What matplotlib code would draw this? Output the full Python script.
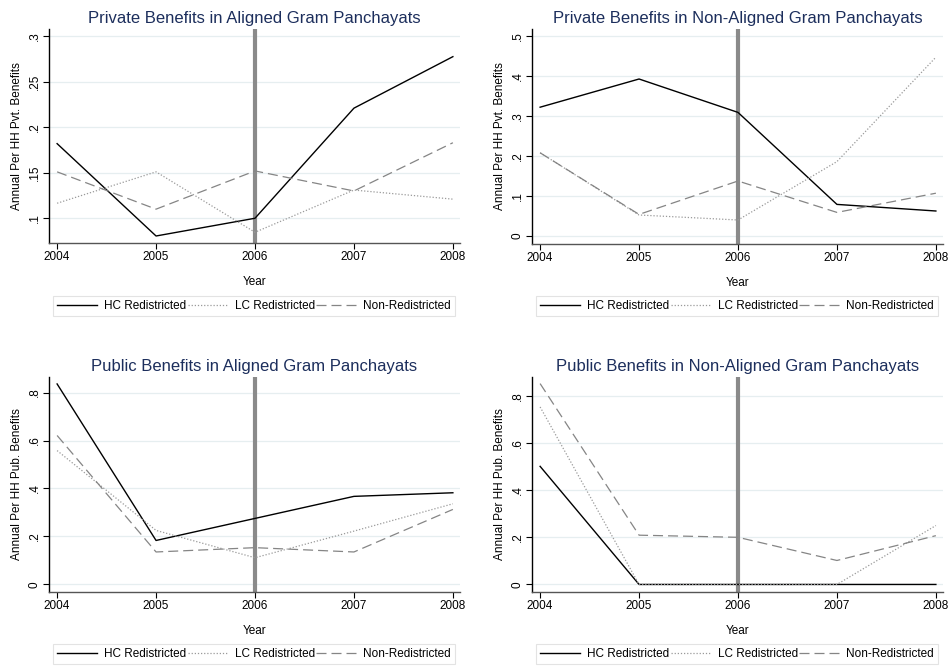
import matplotlib
matplotlib.use("Agg")
import matplotlib.pyplot as plt
from matplotlib.ticker import FuncFormatter

plt.rcParams['font.family'] = ['Liberation Sans', 'DejaVu Sans']

years = [2004, 2005, 2006, 2007, 2008]
series_names = ["HC Redistricted", "LC Redistricted", "Non-Redistricted"]

# Private benefits, aligned GPs
pvt_aligned_hc = [0.182, 0.0805, 0.100, 0.221, 0.2776]
pvt_aligned_lc = [0.1165, 0.151, 0.0846, 0.131, 0.121]
pvt_aligned_non = [0.151, 0.110, 0.152, 0.130, 0.183]

# Private benefits, non-aligned GPs
pvt_nonaligned_hc = [0.322, 0.3925, 0.309, 0.079, 0.0625]
pvt_nonaligned_lc = [0.208, 0.0525, 0.040, 0.186, 0.447]
pvt_nonaligned_non = [0.208, 0.054, 0.1375, 0.059, 0.107]

# Public benefits, aligned GPs
pub_aligned_hc = [0.836, 0.183, 0.275, 0.367, 0.382]
pub_aligned_lc = [0.558, 0.225, 0.111, 0.222, 0.336]
pub_aligned_non = [0.621, 0.135, 0.153, 0.135, 0.3125]

# Public benefits, non-aligned GPs
pub_nonaligned_hc = [0.501, 0.0, 0.0, 0.0, 0.0]
pub_nonaligned_lc = [0.753, 0.0, 0.0, 0.0, 0.250]
pub_nonaligned_non = [0.852, 0.209, 0.200, 0.1017, 0.207]

panels = [
    dict(title="Private Benefits in Aligned Gram Panchayats",
         ylabel="Annual Per HH Pvt. Benefits",
         data=[pvt_aligned_hc, pvt_aligned_lc, pvt_aligned_non],
         yticks=[0.10, 0.15, 0.20, 0.25, 0.30], ylim=(0.0728, 0.308)),
    dict(title="Private Benefits in Non-Aligned Gram Panchayats",
         ylabel="Annual Per HH Pvt. Benefits",
         data=[pvt_nonaligned_hc, pvt_nonaligned_lc, pvt_nonaligned_non],
         yticks=[0.0, 0.1, 0.2, 0.3, 0.4, 0.5], ylim=(-0.02, 0.5175)),
    dict(title="Public Benefits in Aligned Gram Panchayats",
         ylabel="Annual Per HH Pub. Benefits",
         data=[pub_aligned_hc, pub_aligned_lc, pub_aligned_non],
         yticks=[0.0, 0.2, 0.4, 0.6, 0.8], ylim=(-0.032, 0.865)),
    dict(title="Public Benefits in Non-Aligned Gram Panchayats",
         ylabel="Annual Per HH Pub. Benefits",
         data=[pub_nonaligned_hc, pub_nonaligned_lc, pub_nonaligned_non],
         yticks=[0.0, 0.2, 0.4, 0.6, 0.8], ylim=(-0.032, 0.88)),
]

# axes boxes in pixels: left, top, right, bottom; legend box: left, top, right, bottom
W, H = 949, 666
boxes = [
    (49, 29, 460, 243),
    (532, 29, 943, 244),
    (49, 377, 460, 592),
    (532, 377, 943, 592),
]
legend_boxes = [
    (53, 295, 455, 317),
    (536, 295, 938, 317),
    (53, 643, 455, 665),
    (536, 643, 938, 665),
]

styles = [
    dict(color="black", linestyle="-", linewidth=1.0),
    dict(color="#9a9a9a", linestyle=(0, (1, 1.5)), linewidth=0.9),
    dict(color="#858585", linestyle=(0, (8, 4)), linewidth=0.9),
]

title_color = "#1c2e5c"


def fmt(v, pos):
    if abs(v) < 1e-9:
        return "0"
    s = f"{v:.2f}".rstrip("0")
    if s.startswith("0"):
        s = s[1:]
    return s


fig = plt.figure(figsize=(W / 100, H / 100), dpi=100)
fig.patch.set_facecolor("white")

for p, (l, t, r, b), (ll, lt, lr, lb) in zip(panels, boxes, legend_boxes):
    ax = fig.add_axes([l / W, 1 - b / H, (r - l) / W, (b - t) / H])
    for y in p["yticks"]:
        ax.axhline(y, color="#e6eef0", linewidth=0.9, zorder=0)
    ax.axvline(2006, color="#8a8a8a", linewidth=3, zorder=1)
    lines = []
    for vals, st, name in zip(p["data"], styles, series_names):
        ln, = ax.plot(years, vals, label=name, zorder=3, **st)
        lines.append(ln)
    ax.set_xlim(2003.918, 2008.072)
    ax.set_ylim(*p["ylim"])
    ax.set_xticks(years)
    ax.set_yticks(p["yticks"])
    ax.yaxis.set_major_formatter(FuncFormatter(fmt))
    ax.tick_params(axis="y", labelrotation=90, labelsize=8.5, length=4, width=0.8, pad=2)
    for lbl in ax.get_yticklabels():
        lbl.set_va("center")
    ax.tick_params(axis="x", labelsize=8.5, length=4, width=0.8, pad=2)
    ax.spines["top"].set_visible(False)
    ax.spines["right"].set_visible(False)
    ax.spines["left"].set_color("black")
    ax.spines["left"].set_linewidth(1.0)
    ax.spines["bottom"].set_color("#555555")
    ax.spines["bottom"].set_linewidth(1.0)
    ax.set_title(p["title"], color=title_color, fontsize=12, pad=4)
    ax.set_ylabel(p["ylabel"], fontsize=8.5, labelpad=4)
    ax.set_xlabel("Year", fontsize=8.5, labelpad=9)
    ax.set_facecolor("white")
    # legend positioned in figure pixel space below the axes
    bbox = (ll / W, 1 - lb / H, (lr - ll) / W, (lb - lt) / H)
    leg = ax.legend(lines, series_names, loc="center", bbox_to_anchor=bbox,
                    bbox_transform=fig.transFigure, mode="expand",
                    ncol=3, fontsize=8.5, frameon=True, fancybox=False,
                    edgecolor="#dcdcdc", handlelength=3.4, columnspacing=0.6,
                    handletextpad=0.6, borderpad=0.35, borderaxespad=0)
    leg.get_frame().set_linewidth(0.8)

fig.savefig("out.png", dpi=100, facecolor="white")
